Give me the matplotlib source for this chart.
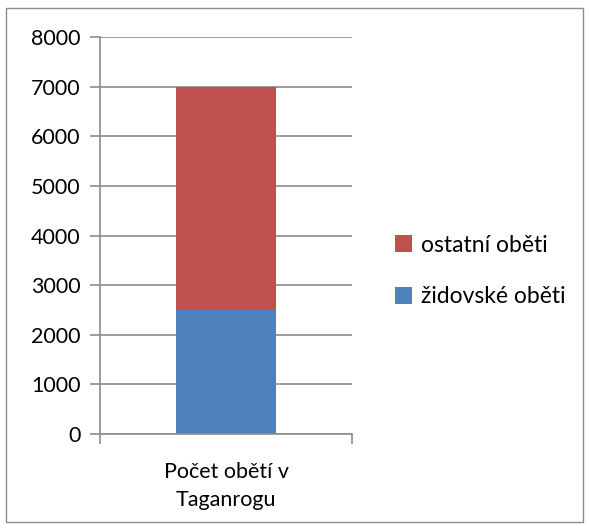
import matplotlib
matplotlib.use("Agg")
import matplotlib.pyplot as plt
from matplotlib.patches import Rectangle

categories = ["Počet obětí v\nTaganrogu"]
zidovske = [2500]
ostatni = [4500]
series_names = ["židovské oběti", "ostatní oběti"]
yticks = [0, 1000, 2000, 3000, 4000, 5000, 6000, 7000, 8000]

plt.rcParams['font.family'] = ['Lato', 'DejaVu Sans']
W, H = 589, 529
fig = plt.figure(figsize=(W/100, H/100), dpi=100)
fig.patches.append(Rectangle((6/W, 1-522/H), 577/W, 514/H, transform=fig.transFigure,
                             fill=False, edgecolor='#8c8c8c', linewidth=1.0))
ax = fig.add_axes([100/W, 1-434/H, 252/W, 397/H])
x = range(len(categories))
b1 = ax.bar(x, zidovske, width=0.397, color='#4f81bd', label=series_names[0])
b2 = ax.bar(x, ostatni, bottom=zidovske, width=0.397, color='#c0504d', label=series_names[1])
ax.set_xlim(-0.5, 0.5)
ax.set_ylim(0, 8000)
ax.set_yticks(yticks)
ax.set_yticklabels([str(v) for v in yticks], fontsize=15.5)
ax.set_xticks(list(x))
ax.set_xticklabels(categories, fontsize=15.5, linespacing=1.5)
ax.yaxis.grid(True, color='#8c8c8c', linewidth=1.2)
ax.set_axisbelow(True)
for s in ['top', 'right']:
    ax.spines[s].set_visible(False)
for s in ['left', 'bottom']:
    ax.spines[s].set_color('#8c8c8c')
    ax.spines[s].set_linewidth(1.2)
ax.tick_params(axis='y', length=7, color='#8c8c8c', width=1.2, pad=7)
ax.tick_params(axis='x', length=0, pad=20)
ax.set_xticks([-0.5, 0.5], minor=True)
ax.tick_params(axis='x', which='minor', length=7, direction='out', color='#8c8c8c', width=1.2)
leg = fig.legend(handles=[b2, b1], labels=[series_names[1], series_names[0]],
                 loc='center left', bbox_to_anchor=(374/W, 1-271/H), frameon=False,
                 fontsize=16.5, handlelength=0.75, handleheight=0.75, labelspacing=1.35,
                 handletextpad=0.4)
fig.savefig("out.png", dpi=100)
